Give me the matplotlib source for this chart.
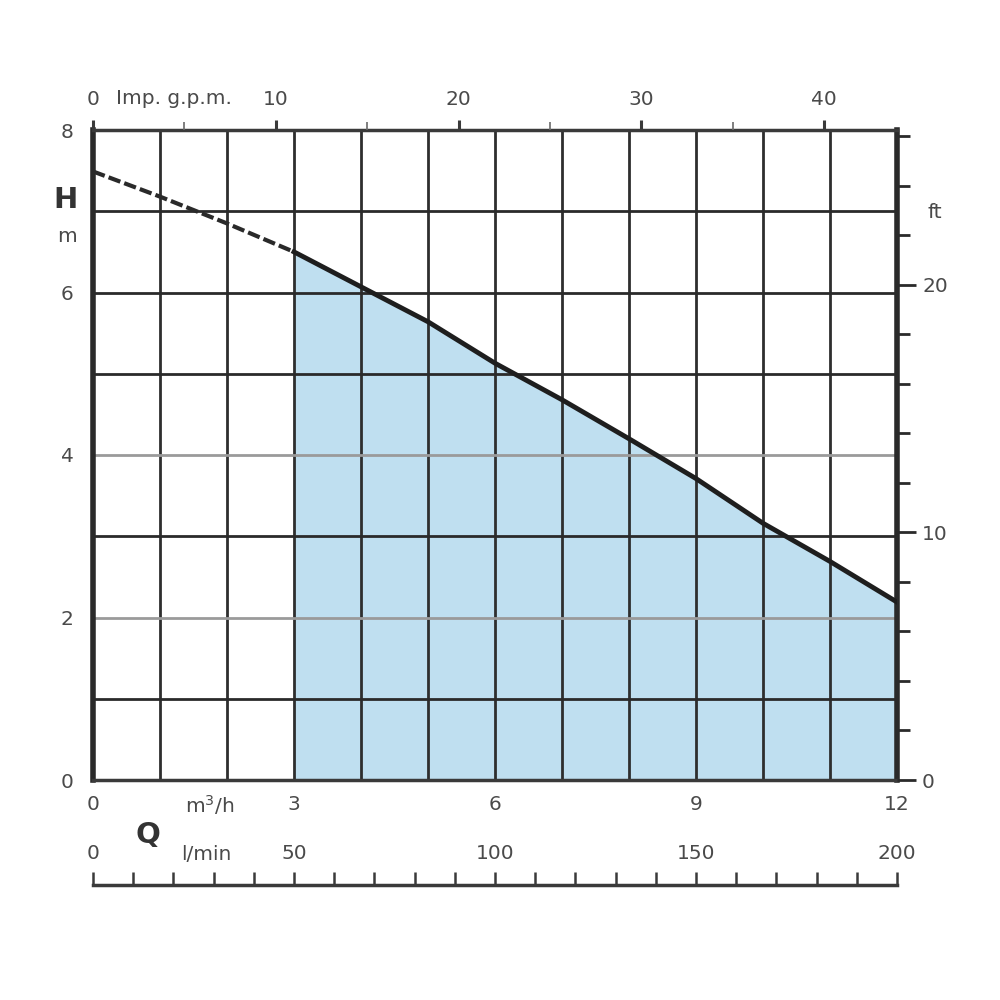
import matplotlib.pyplot as plt
import numpy as np

# pump curve
flow_m3h = [0, 1, 2, 3, 4, 5, 6, 7, 8, 9, 10, 11, 12]
head_m = [7.49, 7.18, 6.85, 6.50, 6.07, 5.64, 5.13, 4.68, 4.20, 3.71, 3.16, 2.69, 2.19]
work_start = 3  # start of the shaded working range

x_labels = [0, 3, 6, 9, 12]
y_labels = [0, 2, 4, 6, 8]
gpm_major = [0, 10, 20, 30, 40]
gpm_minor = [5, 15, 25, 35]
ft_major = [0, 10, 20]
ft_minor = [2, 4, 6, 8, 12, 14, 16, 18, 22, 24, 26]
lmin_ticks = list(range(0, 201, 10))

txt = '#4a4a4a'
fs = 14.5

fig = plt.figure(figsize=(10, 10), dpi=100)
ax = fig.add_axes([0.093, 0.22, 0.804, 0.65])
ax.set_xlim(0, 12)
ax.set_ylim(0, 8)

# grid
for q in range(1, 12):
    ax.axvline(q, color='#2e2e2e', lw=2.0, zorder=2)
for h in range(1, 8):
    c = '#9a9a9a' if h in (2, 4) else '#2a2a2a'
    ax.axhline(h, color=c, lw=2.0, zorder=2)

# shaded working range and curve
q = np.array(flow_m3h)
hd = np.array(head_m)
sel = q >= work_start
ax.fill_between(q[sel], 0, hd[sel], color='#bfdff0', zorder=1, lw=0)
ax.plot(q[q <= work_start], hd[q <= work_start], color='#2a2a2a', lw=3, ls=(0, (3, 1)), zorder=3)
ax.plot(q[sel], hd[sel], color='#1e1e1e', lw=3.5, zorder=3)

for s in ['left', 'right']:
    ax.spines[s].set_linewidth(4)
    ax.spines[s].set_color('#2a2a2a')
for s in ['top', 'bottom']:
    ax.spines[s].set_linewidth(2.5)
    ax.spines[s].set_color('#3a3a3a')

ax.set_xticks(x_labels)
ax.set_xticklabels([str(v) for v in x_labels])
ax.set_yticks(y_labels)
ax.set_yticklabels([str(v) for v in y_labels])
ax.tick_params(axis='both', length=0, labelsize=fs, labelcolor=txt)
ax.tick_params(axis='x', pad=11)
ax.tick_params(axis='y', pad=14)

# right axis in feet
axr = ax.twinx()
axr.set_ylim(0, 8 / 0.3048)
axr.set_yticks(ft_major)
axr.set_yticklabels([str(v) for v in ft_major])
axr.set_yticks(ft_minor, minor=True)
axr.tick_params(axis='y', which='major', length=14, width=2, color='#2a2a2a',
                labelsize=fs, labelcolor=txt, pad=4)
axr.tick_params(axis='y', which='minor', length=9, width=2, color='#2a2a2a')
for s in axr.spines.values():
    s.set_visible(False)
fig.text(0.928, 0.787, 'ft', fontsize=fs, color=txt, ha='left', va='center')

# top axis in imperial gpm
axt = ax.twiny()
axt.set_xlim(0, 12 * 1000 / 60 / 4.54609)
axt.set_xticks(gpm_major)
axt.set_xticklabels([str(v) for v in gpm_major])
axt.set_xticks(gpm_minor, minor=True)
axt.tick_params(axis='x', which='major', length=7, width=2.2, color='#3a3a3a',
                labelsize=fs, labelcolor=txt, pad=8)
axt.tick_params(axis='x', which='minor', length=6, width=1.2, color='#6a6a6a')
for s in axt.spines.values():
    s.set_visible(False)
fig.text(0.116, 0.902, 'Imp. g.p.m.', fontsize=fs, color=txt, ha='left', va='center')

# bottom l/min scale
axb = fig.add_axes([0.093, 0.115, 0.804, 0.0005])
axb.set_xlim(0, 200)
axb.set_yticks([])
for s in ['left', 'right', 'bottom']:
    axb.spines[s].set_visible(False)
axb.spines['top'].set_linewidth(2.5)
axb.spines['top'].set_color('#3a3a3a')
axb.xaxis.tick_top()
axb.set_xticks(lmin_ticks)
axb.set_xticklabels([str(v) if v % 50 == 0 else '' for v in lmin_ticks])
axb.tick_params(axis='x', length=9.5, width=1.8, color='#3a3a3a', labelsize=fs,
                labelcolor=txt, pad=6)

# axis names
fig.text(0.065, 0.80, 'H', fontsize=21, fontweight='bold', color='#333333',
         ha='center', va='center')
fig.text(0.067, 0.763, 'm', fontsize=fs, color=txt, ha='center', va='center')
fig.text(0.185, 0.195, 'm$^3$/h', fontsize=fs, color=txt, ha='left', va='center')
fig.text(0.148, 0.165, 'Q', fontsize=21, fontweight='bold', color='#333333',
         ha='center', va='center')
fig.text(0.181, 0.145, 'l/min', fontsize=fs, color=txt, ha='left', va='center')

fig.savefig('out.png', dpi=100)
